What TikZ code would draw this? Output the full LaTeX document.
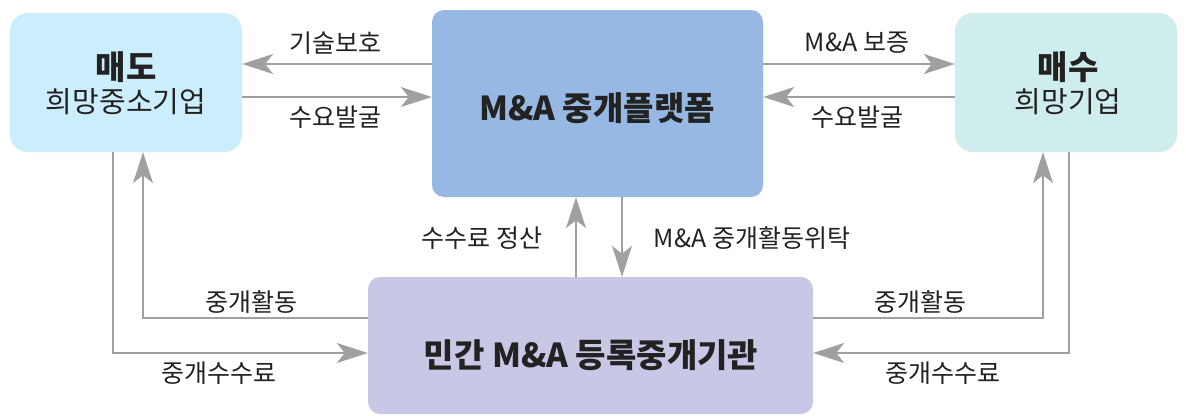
\documentclass[tikz,border=0pt]{standalone}
\usepackage{fontspec}
\setmainfont{Noto Sans CJK KR}
\usetikzlibrary{arrows.meta}
\definecolor{cL}{HTML}{CCEEFC}
\definecolor{cC}{HTML}{98B8E4}
\definecolor{cR}{HTML}{CEEDEC}
\definecolor{cB}{HTML}{C8C7E6}
\definecolor{cA}{HTML}{A0A0A0}
\definecolor{cT}{HTML}{222222}
\tikzset{
  box/.style={rectangle, rounded corners=14pt, inner sep=0pt, text=cT, align=center},
  arr/.style={draw=cA, line width=1.6pt, -{Stealth[length=31pt, width=20pt, inset=8pt, fill=cA]}},
  lab/.style={text=cT, inner sep=0pt, font=\fontsize{25}{28}\selectfont},
  title/.style={font=\bfseries\fontsize{33}{36}\selectfont},
  sub/.style={font=\fontsize{29}{32}\selectfont}
}
\begin{document}
\begin{tikzpicture}[x=1pt, y=-1pt]
\useasboundingbox (0,0) rectangle (1186,415);
\fill[white] (0,0) rectangle (1186,415);
% boxes
\node[box, fill=cL, minimum width=232pt, minimum height=139pt, rounded corners=18pt] (L) at (126,82.5) {};
\node[box, fill=cC, minimum width=331pt, minimum height=187pt, rounded corners=12pt] (C) at (597.5,103.5) {};
\node[box, fill=cR, minimum width=222pt, minimum height=139pt, rounded corners=18pt] (R) at (1066,82.5) {};
\node[box, fill=cB, minimum width=445pt, minimum height=137pt, rounded corners=12pt] (B) at (590.5,345.5) {};
% box texts
\node[title, text=cT] (Lt) at (126,67) {매도};
\node[sub, text=cT] (Ls) at (126,102) {희망중소기업};
\node[title, text=cT] (Rt) at (1068,67) {매수};
\node[sub, text=cT] (Rs) at (1068,102) {희망기업};
\node[title, text=cT] (Ct) at (597,108) {M\&A 중개플랫폼};
\node[title, text=cT] (Bt) at (591,355) {민간 M\&A 등록중개기관};
% horizontal top arrows
\draw[arr] (C.west |- 0,64) -- (L.east |- 0,64);
\draw[arr] (L.east |- 0,97) -- (C.west |- 0,97);
\draw[arr] (C.east |- 0,64) -- (R.west |- 0,64);
\draw[arr] (R.west |- 0,97) -- (C.east |- 0,97);
% center verticals
\draw[arr] (B.north -| 576,0) -- (C.south -| 576,0);
\draw[arr] (C.south -| 622,0) -- (B.north -| 622,0);
% left loops
\draw[arr] (L.south -| 113,0) |- (B.west |- 0,353);
\draw[arr] (B.west |- 0,318) -| (L.south -| 143,0);
% right loops
\draw[arr] (B.east |- 0,318) -| (R.south -| 1043,0);
\draw[arr] (R.south -| 1069,0) |- (B.east |- 0,353);
% labels
\node[lab] (l1) at (335,43) {기술보호};
\node[lab] (l2) at (335,117) {수요발굴};
\node[lab] (l3) at (857,43) {M\&A 보증};
\node[lab] (l4) at (857,117) {수요발굴};
\node[lab] (l5) at (482,238) {수수료 정산};
\node[lab] (l6) at (752,238) {M\&A 중개활동위탁};
\node[lab] (l7) at (251,302) {중개활동};
\node[lab] (l8) at (219,373) {중개수수료};
\node[lab] (l9) at (920,302) {중개활동};
\node[lab] (l10) at (943,373) {중개수수료};
\end{tikzpicture}
\end{document}
